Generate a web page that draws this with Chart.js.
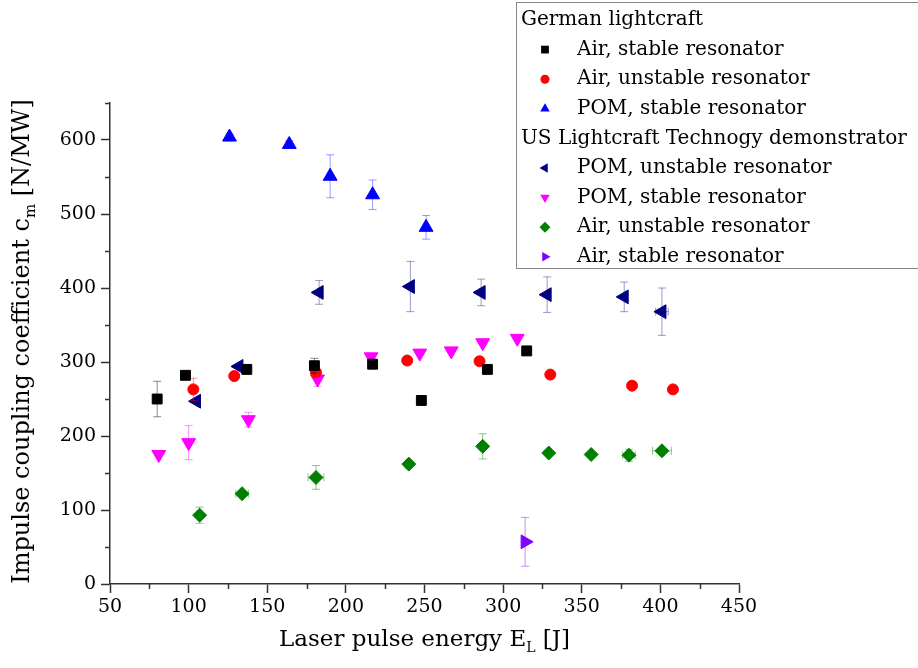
<!DOCTYPE html>
<html>
<head>
<meta charset="utf-8">
<script src="https://cdn.jsdelivr.net/npm/chart.js@4/dist/chart.umd.min.js"></script>
<style>
  html, body { margin: 0; padding: 0; background: #fff; }
  #wrap { width: 918px; height: 668px; position: relative; }
</style>
</head>
<body>
<div id="wrap"><canvas id="cmChart" width="918" height="668"></canvas></div>
<script>
// --- German lightcraft ---
const deAirStableE    = [80, 98, 137, 180, 217, 248, 290, 315];
const deAirStableCm   = [250, 282, 290, 295, 297, 248, 290, 315];
const deAirStableErr  = [24, 0, 0, 10, 5, 0, 0, 0];

const deAirUnstableE   = [103, 129, 181, 239, 285, 330, 382, 408];
const deAirUnstableCm  = [263, 281, 286, 302, 301, 283, 268, 263];
const deAirUnstableErr = [15, 0, 0, 0, 0, 0, 0, 0];

const dePomStableE   = [126, 164, 190, 217, 251];
const dePomStableCm  = [604, 594, 551, 526, 482];
const dePomStableErr = [5, 5, 29, 20, 16];

// --- US Lightcraft Technology demonstrator ---
const usPomUnstableE    = [105, 132, 183, 241, 286, 328, 377, 401];
const usPomUnstableCm   = [247, 294, 394, 402, 394, 391, 388, 368];
const usPomUnstableErr  = [0, 0, 16, 34, 18, 24, 20, 32];
const usPomUnstableXErr = [0, 0, 0, 0, 0, 0, 0, 4];

const usPomStableE   = [81, 100, 138, 182, 216, 247, 267, 287, 309];
const usPomStableCm  = [175, 191, 222, 277, 307, 312, 315, 326, 332];
const usPomStableErr = [0, 23, 10, 10, 0, 0, 0, 0, 0];

const usAirUnstableE    = [107, 134, 181, 240, 287, 329, 356, 380, 401];
const usAirUnstableCm   = [93, 122, 144, 162, 186, 177, 175, 174, 180];
const usAirUnstableErr  = [11, 0, 16, 5, 17, 0, 0, 8, 0];
const usAirUnstableXErr = [0, 4, 5, 0, 0, 0, 0, 4, 6];

const usAirStableE   = [314];
const usAirStableCm  = [57];
const usAirStableErr = [33];

// axis ranges / ticks
const xRange = [50, 450];
const yRange = [0, 650];
const xStep = 50;
const yStep = 100;

const legendGroups = [
  { title: 'German lightcraft', sets: [0, 1, 2] },
  { title: 'US Lightcraft Technogy demonstrator', sets: [3, 4, 5, 6] }
];

const SERIF = '"DejaVu Serif", "Liberation Serif", serif';

function points(xs, ys) {
  return xs.map((x, i) => ({ x: x, y: ys[i] }));
}

function series(label, xs, ys, yErr, xErr, color, errColor, style, rotation, radius) {
  return {
    label: label,
    data: points(xs, ys),
    yErr: yErr,
    xErr: xErr || [],
    errColor: errColor,
    backgroundColor: color,
    borderColor: color,
    borderWidth: 1,
    pointStyle: style,
    rotation: rotation,
    pointRadius: radius,
    pointHoverRadius: radius
  };
}

const datasets = [
  series('Air, stable resonator', deAirStableE, deAirStableCm, deAirStableErr, null, '#000000', 'rgba(0,0,0,0.45)', 'rect', 0, 7),
  series('Air, unstable resonator', deAirUnstableE, deAirUnstableCm, deAirUnstableErr, null, '#ff0000', 'rgba(255,0,0,0.45)', 'circle', 0, 5.5),
  series('POM, stable resonator', dePomStableE, dePomStableCm, dePomStableErr, null, '#0000ff', 'rgba(0,0,255,0.4)', 'triangle', 0, 8),
  series('POM, unstable resonator', usPomUnstableE, usPomUnstableCm, usPomUnstableErr, usPomUnstableXErr, '#000080', 'rgba(0,0,128,0.4)', 'triangle', -90, 8),
  series('POM, stable resonator', usPomStableE, usPomStableCm, usPomStableErr, null, '#ff00ff', 'rgba(255,0,255,0.45)', 'triangle', 180, 8),
  series('Air, unstable resonator', usAirUnstableE, usAirUnstableCm, usAirUnstableErr, usAirUnstableXErr, '#008000', 'rgba(0,128,0,0.45)', 'rectRot', 0, 7),
  series('Air, stable resonator', usAirStableE, usAirStableCm, usAirStableErr, null, '#8000ff', 'rgba(128,0,255,0.45)', 'triangle', 90, 8)
];

// error bars with small caps, drawn from the scales
const errorBars = {
  id: 'errorBars',
  afterDatasetsDraw(chart) {
    const { ctx, scales: { x, y } } = chart;
    const cap = 4;
    chart.data.datasets.forEach((ds) => {
      ctx.save();
      ctx.strokeStyle = ds.errColor;
      ctx.lineWidth = 1;
      ds.data.forEach((p, j) => {
        const px = x.getPixelForValue(p.x);
        const py = y.getPixelForValue(p.y);
        const ey = ds.yErr[j];
        const ex = ds.xErr[j];
        ctx.beginPath();
        if (ey) {
          const top = y.getPixelForValue(p.y + ey);
          const bot = y.getPixelForValue(p.y - ey);
          ctx.moveTo(px, top); ctx.lineTo(px, bot);
          ctx.moveTo(px - cap, top); ctx.lineTo(px + cap, top);
          ctx.moveTo(px - cap, bot); ctx.lineTo(px + cap, bot);
        }
        if (ex) {
          const l = x.getPixelForValue(p.x - ex);
          const r = x.getPixelForValue(p.x + ex);
          ctx.moveTo(l, py); ctx.lineTo(r, py);
          ctx.moveTo(l, py - cap); ctx.lineTo(l, py + cap);
          ctx.moveTo(r, py - cap); ctx.lineTo(r, py + cap);
        }
        ctx.stroke();
      });
      ctx.restore();
    });
  }
};

// short minor ticks half way between the labelled ones
const minorTicks = {
  id: 'minorTicks',
  afterDraw(chart) {
    const { ctx, scales: { x, y } } = chart;
    ctx.save();
    ctx.strokeStyle = '#333';
    ctx.lineWidth = 1.5;
    ctx.beginPath();
    for (let v = xRange[0] + xStep / 2; v < xRange[1]; v += xStep) {
      const px = Math.round(x.getPixelForValue(v)) + 0.5;
      ctx.moveTo(px, x.top); ctx.lineTo(px, x.top + 5);
    }
    for (let v = yRange[0] + yStep / 2; v <= yRange[1]; v += yStep) {
      const py = Math.round(y.getPixelForValue(v)) + 0.5;
      ctx.moveTo(y.right, py); ctx.lineTo(y.right - 5, py);
    }
    ctx.stroke();
    ctx.restore();
  }
};

// text with one subscript part, e.g. E_L
function drawSubText(ctx, parts, cx, cy, size) {
  const main = size + 'px ' + SERIF;
  const sub = Math.round(size * 0.62) + 'px ' + SERIF;
  let total = 0;
  parts.forEach(p => { ctx.font = p.sub ? sub : main; total += ctx.measureText(p.t).width; });
  let xPos = cx - total / 2;
  ctx.textBaseline = 'middle';
  ctx.textAlign = 'left';
  parts.forEach(p => {
    ctx.font = p.sub ? sub : main;
    ctx.fillText(p.t, xPos, p.sub ? cy + size * 0.35 : cy);
    xPos += ctx.measureText(p.t).width;
  });
}

const axisTitles = {
  id: 'axisTitles',
  afterDraw(chart) {
    const { ctx, chartArea } = chart;
    ctx.save();
    ctx.fillStyle = '#000';
    drawSubText(ctx, [{ t: 'Laser pulse energy E' }, { t: 'L', sub: true }, { t: ' [J]' }],
      (chartArea.left + chartArea.right) / 2, 640, 23);
    ctx.translate(23, (chartArea.top + chartArea.bottom) / 2 - 2);
    ctx.rotate(-Math.PI / 2);
    drawSubText(ctx, [{ t: 'Impulse coupling coefficient c' }, { t: 'm', sub: true }, { t: ' [N/MW]' }], 0, 0, 24);
    ctx.restore();
  }
};

// grouped legend box in the upper right corner
const groupedLegend = {
  id: 'groupedLegend',
  afterDraw(chart) {
    const { ctx } = chart;
    const left = 516.5, top = 2.5, right = 930, bottom = 268.5;
    const rowH = 29.6;
    ctx.save();
    ctx.fillStyle = '#fff';
    ctx.fillRect(left, top, right - left, bottom - top);
    ctx.strokeStyle = '#888';
    ctx.lineWidth = 1;
    ctx.strokeRect(left, top, right - left, bottom - top);
    ctx.font = '20px ' + SERIF;
    ctx.textBaseline = 'middle';
    ctx.textAlign = 'left';
    let rowY = 20;
    legendGroups.forEach(g => {
      ctx.fillStyle = '#000';
      ctx.fillText(g.title, 521, rowY);
      rowY += rowH;
      g.sets.forEach(i => {
        const ds = chart.data.datasets[i];
        ctx.fillStyle = ds.backgroundColor;
        ctx.strokeStyle = ds.borderColor;
        Chart.helpers.drawPoint(ctx, {
          pointStyle: ds.pointStyle,
          rotation: ds.rotation,
          radius: ds.pointStyle === 'circle' ? 4.5 : 5.5,
          borderWidth: 0
        }, 545, rowY);
        ctx.fillStyle = '#000';
        ctx.fillText(ds.label, 577, rowY);
        rowY += rowH;
      });
    });
    ctx.restore();
  }
};

const tickFont = { family: SERIF, size: 19 };

new Chart(document.getElementById('cmChart'), {
  type: 'scatter',
  data: { datasets: datasets },
  plugins: [errorBars, minorTicks, axisTitles, groupedLegend],
  options: {
    responsive: false,
    animation: false,
    layout: { padding: { top: 103, right: 179, left: 0, bottom: 0 } },
    plugins: { legend: { display: false }, tooltip: { enabled: false } },
    scales: {
      x: {
        type: 'linear',
        min: xRange[0],
        max: xRange[1],
        ticks: { stepSize: xStep, font: tickFont, color: '#000', padding: 3, maxRotation: 0 },
        grid: { drawOnChartArea: false, drawTicks: true, tickLength: 9, tickColor: '#333', tickWidth: 1.5 },
        border: { color: '#333', width: 1.5 },
        afterFit(scale) { scale.height = 84; }
      },
      y: {
        type: 'linear',
        min: yRange[0],
        max: yRange[1],
        ticks: { stepSize: yStep, font: tickFont, color: '#000', padding: 5 },
        afterBuildTicks(scale) { scale.ticks = scale.ticks.filter(t => t.value % yStep === 0); },
        grid: { drawOnChartArea: false, drawTicks: true, tickLength: 9, tickColor: '#333', tickWidth: 1.5 },
        border: { color: '#333', width: 1.5 },
        afterFit(scale) { scale.width = 110; }
      }
    }
  }
});
</script>
</body>
</html>
